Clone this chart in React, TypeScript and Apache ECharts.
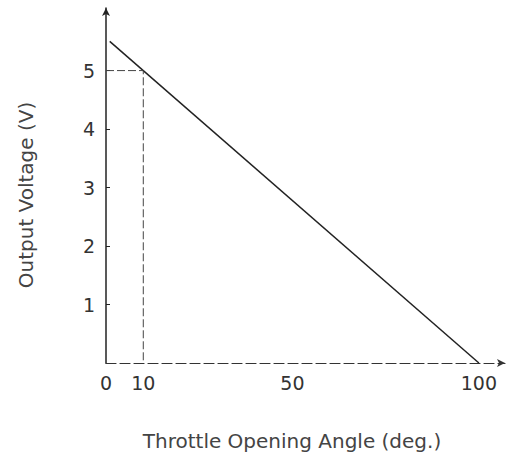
import React, { useEffect, useRef } from "react";
import * as echarts from "echarts";

const xTickLabels = [0, 10, 50, 100];
const yTickLabels = [1, 2, 3, 4, 5];
const xTitle = "Throttle Opening Angle (deg.)";
const yTitle = "Output Voltage (V)";
const voltageLine: [number, number][] = [
  [1, 5.5],
  [100, 0],
];
const guideLine: [number, number][] = [
  [0, 5],
  [10, 5],
  [10, 0],
];

export default function App() {
  const ref = useRef<HTMLDivElement>(null);
  useEffect(() => {
    if (!ref.current) return;
    const chart = echarts.init(ref.current, undefined, { renderer: "svg" });
    const font = "'DejaVu Sans', sans-serif";
    chart.setOption({
      animation: false,
      backgroundColor: "#fff",
      grid: { left: 106, top: 8, right: 3, bottom: 105, containLabel: false },
      graphic: [
        {
          type: "text",
          x: 292,
          y: 441,
          style: {
            text: xTitle,
            fontFamily: font,
            fontSize: 20,
            fill: "#444",
            align: "center",
            verticalAlign: "middle",
          },
        },
        {
          type: "text",
          x: 26,
          y: 195,
          rotation: Math.PI / 2,
          style: {
            text: yTitle,
            fontFamily: font,
            fontSize: 20,
            fill: "#444",
            align: "center",
            verticalAlign: "middle",
          },
        },
      ],
      xAxis: {
        type: "value",
        min: 0,
        max: 107,
        splitLine: { show: false },
        axisLine: {
          show: true,
          symbol: ["none", "arrow"],
          symbolSize: [6, 8],
          lineStyle: { color: "#333", width: 1.2, type: [10, 4] },
        },
        axisTick: { show: false },
        axisLabel: {
          customValues: xTickLabels,
          fontFamily: font,
          fontSize: 19,
          color: "#333",
          margin: 10,
        },
      },
      yAxis: {
        type: "value",
        min: 0,
        max: 6.07,
        splitLine: { show: false },
        axisLine: {
          show: true,
          symbol: ["none", "arrow"],
          symbolSize: [6, 8],
          lineStyle: { color: "#222", width: 1.5 },
        },
        axisTick: {
          show: true,
          inside: true,
          length: 4,
          customValues: yTickLabels,
          lineStyle: { color: "#222" },
        },
        axisLabel: {
          customValues: yTickLabels,
          fontFamily: font,
          fontSize: 19,
          color: "#333",
          margin: 11,
        },
      },
      series: [
        {
          type: "line",
          data: voltageLine,
          symbol: "none",
          lineStyle: { color: "#222", width: 1.5 },
        },
        {
          type: "line",
          data: guideLine,
          symbol: "none",
          lineStyle: { color: "#444", width: 1, type: [8, 3] },
        },
      ],
    });
    return () => chart.dispose();
  }, []);
  return <div ref={ref} style={{ width: 508, height: 468, position: "absolute", left: 0, top: 0 }} />;
}
